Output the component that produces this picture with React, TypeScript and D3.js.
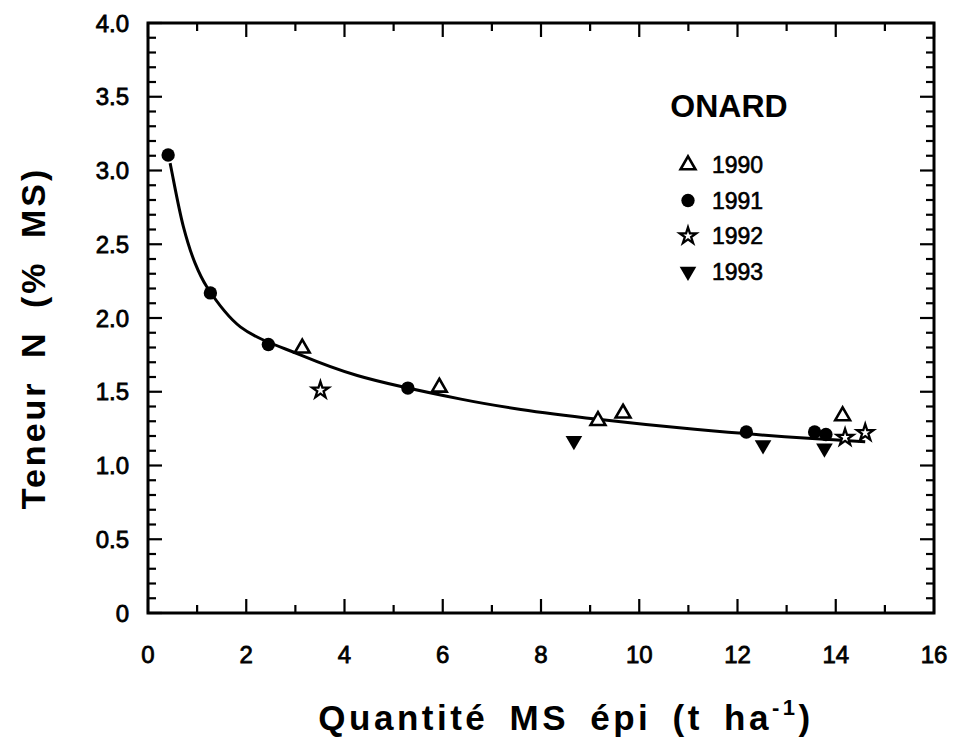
import React from "react";
import * as d3 from "d3";

const yr1990x = [3.14, 5.93, 9.16, 9.67, 14.14];
const yr1990y = [1.795, 1.53, 1.304, 1.354, 1.336];
const yr1991x = [0.41, 1.27, 2.45, 5.29, 12.18, 13.57, 13.8];
const yr1991y = [3.105, 2.17, 1.82, 1.525, 1.227, 1.227, 1.21];
const yr1992x = [3.51, 14.19, 14.6];
const yr1992y = [1.51, 1.19, 1.222];
const yr1993x = [8.67, 12.52, 13.77];
const yr1993y = [1.168, 1.139, 1.117];

const curveX = [0.45, 0.48, 0.72, 0.96, 1.2, 1.88, 3.1, 4.26, 6.37, 7.59, 9.16, 11.13, 13.44, 14.6];
const curveY = [3.05, 3.0, 2.62, 2.37, 2.21, 1.94, 1.75, 1.61, 1.45, 1.38, 1.313, 1.245, 1.184, 1.161];

const xTickLabels = ["0", "2", "4", "6", "8", "10", "12", "14", "16"];
const yTickLabels = ["0", "0.5", "1.0", "1.5", "2.0", "2.5", "3.0", "3.5", "4.0"];
const legendYears = ["1990", "1991", "1992", "1993"];

const W = 953, H = 739;
const L = 148, R = 934, T = 23, B = 613;
const FONT = "'Liberation Sans', Arial, Helvetica, sans-serif";

export default function App() {
  const x = d3.scaleLinear().domain([0, 16]).range([L, R]);
  const y = d3.scaleLinear().domain([0, 4]).range([B, T]);

  const line = d3
    .line<number>()
    .x((_, i) => x(curveX[i]))
    .y((_, i) => y(curveY[i]))
    .curve(d3.curveCatmullRom.alpha(0.5));

  const tri = d3.symbol(d3.symbolTriangle, 95)()!;
  const circ = d3.symbol(d3.symbolCircle, 140)()!;
  const star = d3.symbol(d3.symbolStar, 85)()!;
  const triDown = d3.symbol(d3.symbolTriangle, 120)()!;

  const markers: Record<string, (k: string | number) => JSX.Element> = {
    "1990": (k) => <path key={k} d={tri} fill="#fff" stroke="#000" strokeWidth={2.6} />,
    "1991": (k) => <path key={k} d={circ} fill="#000" />,
    "1992": (k) => <path key={k} d={star} fill="#fff" stroke="#000" strokeWidth={2.3} strokeLinejoin="miter" />,
    "1993": (k) => <path key={k} d={triDown} fill="#000" transform="rotate(180)" />,
  };

  const series: [string, number[], number[]][] = [
    ["1990", yr1990x, yr1990y],
    ["1991", yr1991x, yr1991y],
    ["1992", yr1992x, yr1992y],
    ["1993", yr1993x, yr1993y],
  ];

  const yMinor = d3.range(0, 41).map((i) => i / 10);
  const xMinor = d3.range(0, 17);

  return (
    <svg width={W} height={H} style={{ position: "absolute", left: 0, top: 0, background: "#fff" }} fontFamily={FONT}>
      <rect width={W} height={H} fill="#fff" />
      {/* ticks */}
      <g stroke="#000" strokeWidth={2.2}>
        {yMinor.map((v, i) => {
          const len = i % 5 === 0 ? 14 : 8;
          return (
            <g key={"y" + i}>
              <line x1={L} x2={L + len} y1={y(v)} y2={y(v)} />
              <line x1={R} x2={R - len} y1={y(v)} y2={y(v)} />
            </g>
          );
        })}
        {xMinor.map((v, i) => {
          const len = i % 2 === 0 ? 14 : 8;
          return (
            <g key={"x" + i}>
              <line x1={x(v)} x2={x(v)} y1={B} y2={B - len} />
              <line x1={x(v)} x2={x(v)} y1={T} y2={T + len} />
            </g>
          );
        })}
      </g>
      <rect x={L} y={T} width={R - L} height={B - T} fill="none" stroke="#000" strokeWidth={3} />

      {/* tick labels */}
      <g fontSize={24} fill="#000" stroke="#000" strokeWidth={0.8}>
        {xTickLabels.map((t, i) => (
          <text key={t} x={x(i * 2)} y={B + 50} textAnchor="middle">
            {t}
          </text>
        ))}
        {yTickLabels.map((t, i) => (
          <text key={t} x={L - 19} y={y(i * 0.5)} dy="0.36em" textAnchor="end">
            {t}
          </text>
        ))}
      </g>

      {/* fitted curve */}
      <path d={line(curveX) || ""} fill="none" stroke="#000" strokeWidth={3} />

      {/* points */}
      {series.map(([name, xs, ys]) =>
        xs.map((xv, i) => (
          <g key={name + i} transform={`translate(${x(xv)},${y(ys[i])})`}>
            {markers[name](0)}
          </g>
        ))
      )}

      {/* legend */}
      <text x={729} y={117} fontSize={32} fontWeight="bold" textAnchor="middle">
        ONARD
      </text>
      {legendYears.map((yr, i) => (
        <g key={yr}>
          <g transform={`translate(688,${165 + i * 35.5})`}>{markers[yr](0)}</g>
          <text x={712} y={165 + i * 35.5} dy="0.36em" fontSize={23} stroke="#000" strokeWidth={0.6}>
            {yr}
          </text>
        </g>
      ))}

      {/* axis titles */}
      <text x={566} y={730} fontSize={35} fontWeight="bold" textAnchor="middle" letterSpacing={3.5} wordSpacing={8} style={{ whiteSpace: "pre" }}>
        {"Quantité MS épi (t ha"}
        <tspan fontSize={22} dy={-15}>{"-1"}</tspan>
        <tspan dy={15}>{")"}</tspan>
      </text>
      <text
        transform={`translate(45,${338}) rotate(-90)`}
        fontSize={34}
        fontWeight="bold"
        textAnchor="middle"
        letterSpacing={3}
        wordSpacing={10}
        style={{ whiteSpace: "pre" }}
      >
        {"Teneur N (% MS)"}
      </text>
    </svg>
  );
}
